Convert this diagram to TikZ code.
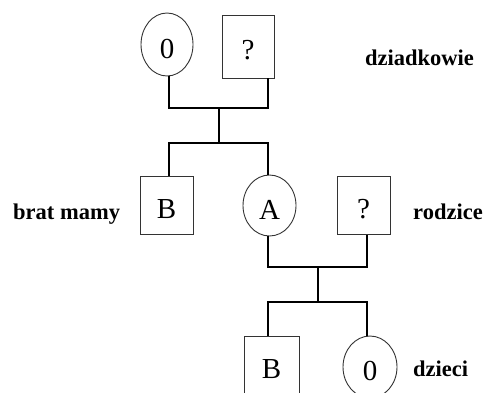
\documentclass[tikz,border=0pt]{standalone}
\usepackage{fontspec}
\setmainfont{Liberation Serif}
\usetikzlibrary{shapes.geometric}
\tikzset{
  person/.style={draw=black!80, line width=0.9pt, inner sep=0pt,
    font=\fontsize{29}{29}\selectfont},
  male/.style={person, rectangle, minimum width=#1, minimum height=58pt},
  male/.default=53pt,
  female/.style={person, ellipse, minimum width=53pt, minimum height=62pt},
  tag/.style={anchor=base west, inner sep=0pt,
    font=\fontsize{22.5}{22.5}\selectfont\bfseries},
  link/.style={line width=1.9pt}
}
% symbol sits a little below the middle of its shape
\newcommand{\sym}[1]{\raisebox{-4pt}[\height][\depth]{#1}}
\begin{document}
\begin{tikzpicture}[x=1pt,y=-1pt]
\useasboundingbox (0,0) rectangle (486,392);

% grandparents
\node[female, minimum width=52pt, minimum height=63pt] (gm) at (167,44.5) {\sym{0}};
\node[male=52pt, minimum height=63pt] (gf) at (248,46.5) {\sym{?}};

% parents' generation
\node[male] (uncle) at (166.5,205) {\sym{B}};
\node[female, minimum height=61pt] (mother) at (269.5,205.5) {\sym{A}};
\node[male] (father) at (363.5,205.5) {\sym{?}};

% children
\node[male=55pt] (son) at (271.5,365) {\sym{B}};
\node[female, minimum width=54pt] (daughter) at (370,367) {\sym{0}};

% generation labels
\node[tag] (lgp) at (365,65) {dziadkowie};
\node[tag] (luncle) at (13,219) {brat mamy};
\node[tag] (lpar) at (413,219) {rodzice};
\node[tag] (lkids) at (413,376) {dzieci};

% junction points
\coordinate (gmB) at (169,108);
\coordinate (gfB) at (268,108);
\coordinate (gmid) at (219,108);
\coordinate (gsib) at (219,143);
\coordinate (sL) at (169,143);
\coordinate (sR) at (268,143);
\coordinate (mB) at (268,267);
\coordinate (fB) at (367,267);
\coordinate (pmid) at (318,267);
\coordinate (psib) at (318,302);
\coordinate (cL) at (268,302);
\coordinate (cR) at (367,302);

% grandparents' marriage and descent
\draw[link] (gm.south -| gmB) -- (gmB) -- (gfB) -- (gf.south -| gfB);
\draw[link] (gmid) -- (gsib);
\draw[link] (uncle.north -| sL) -- (sL) -- (sR) -- (mother.north -| sR);

% parents' marriage and descent
\draw[link] (mother.south -| mB) -- (mB) -- (fB) -- (father.south -| fB);
\draw[link] (pmid) -- (psib);
\draw[link] (son.north -| cL) -- (cL) -- (cR) -- (daughter.north -| cR);
\end{tikzpicture}
\end{document}
